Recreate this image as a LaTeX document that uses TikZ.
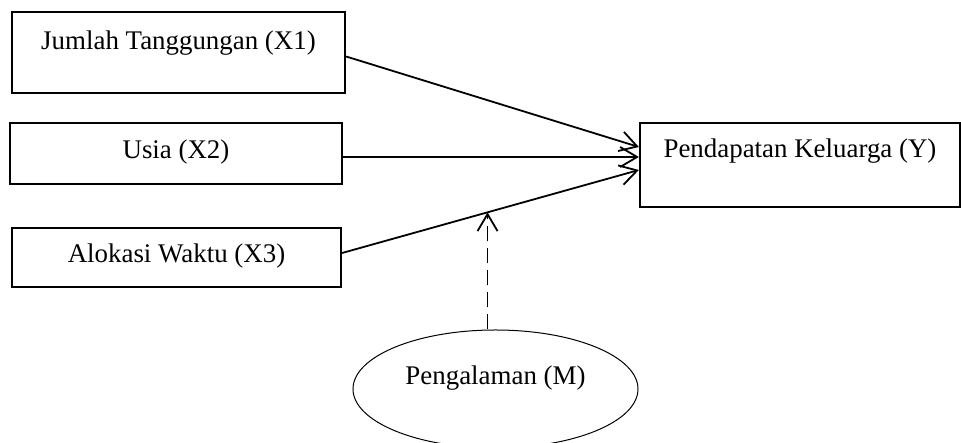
\documentclass[tikz,border=0pt]{standalone}
\usepackage{fontspec}
\setmainfont{Liberation Serif}
\usetikzlibrary{arrows.meta, positioning, shapes.geometric, calc}

\begin{document}
\begin{tikzpicture}[x=0.5bp, y=-0.5bp, font=\fontsize{13.5}{16}\selectfont,
            box/.style={draw, line width=1.1bp, inner sep=0pt, align=center},
            link/.style={line width=0.9bp, -{Straight Barb[length=8.5bp, width=10bp, line width=0.9bp]}}]
            \useasboundingbox (0,0) rectangle (961,443);
            % variabel bebas
            \node[box, minimum width=166.5bp, text height=19bp, text depth=21.5bp] (x1) at (178.5,52.5)
              {Jumlah Tanggungan (X1)};
            \node[box, minimum width=166bp, text height=18bp, text depth=12.5bp] (x2) at (176,153.5)
              {Usia (X2)};
            \node[box, minimum width=164.5bp, text height=17.5bp, text depth=12bp] (x3) at (176.5,257.5)
              {Alokasi Waktu (X3)};
            % variabel terikat
            \node[box, minimum width=160bp, text height=17.5bp, text depth=24.5bp] (y) at (800,165)
              {Pendapatan Keluarga (Y)};
            % moderasi
            \node[ellipse, draw, line width=0.5bp, inner sep=0pt, minimum width=142.5bp,
                  minimum height=59bp, text height=9bp, text depth=13bp] (m) at (495.5,389)
              {Pengalaman (M)};
            \draw[link] ([yshift=-2bp]x1.east) -- ([yshift=9bp]y.west);
            \draw[link] ([yshift=-1.75bp]x2.east) -- ([yshift=4bp]y.west);
            \draw[link] ([yshift=2.25bp]x3.east) -- ([yshift=-2.5bp]y.west)
              coordinate[pos=0.49] (mod);
            \draw[link, dash pattern=on 7.5bp off 3.5bp] (m.north -| mod) -- (mod);
          \end{tikzpicture}
\end{document}
